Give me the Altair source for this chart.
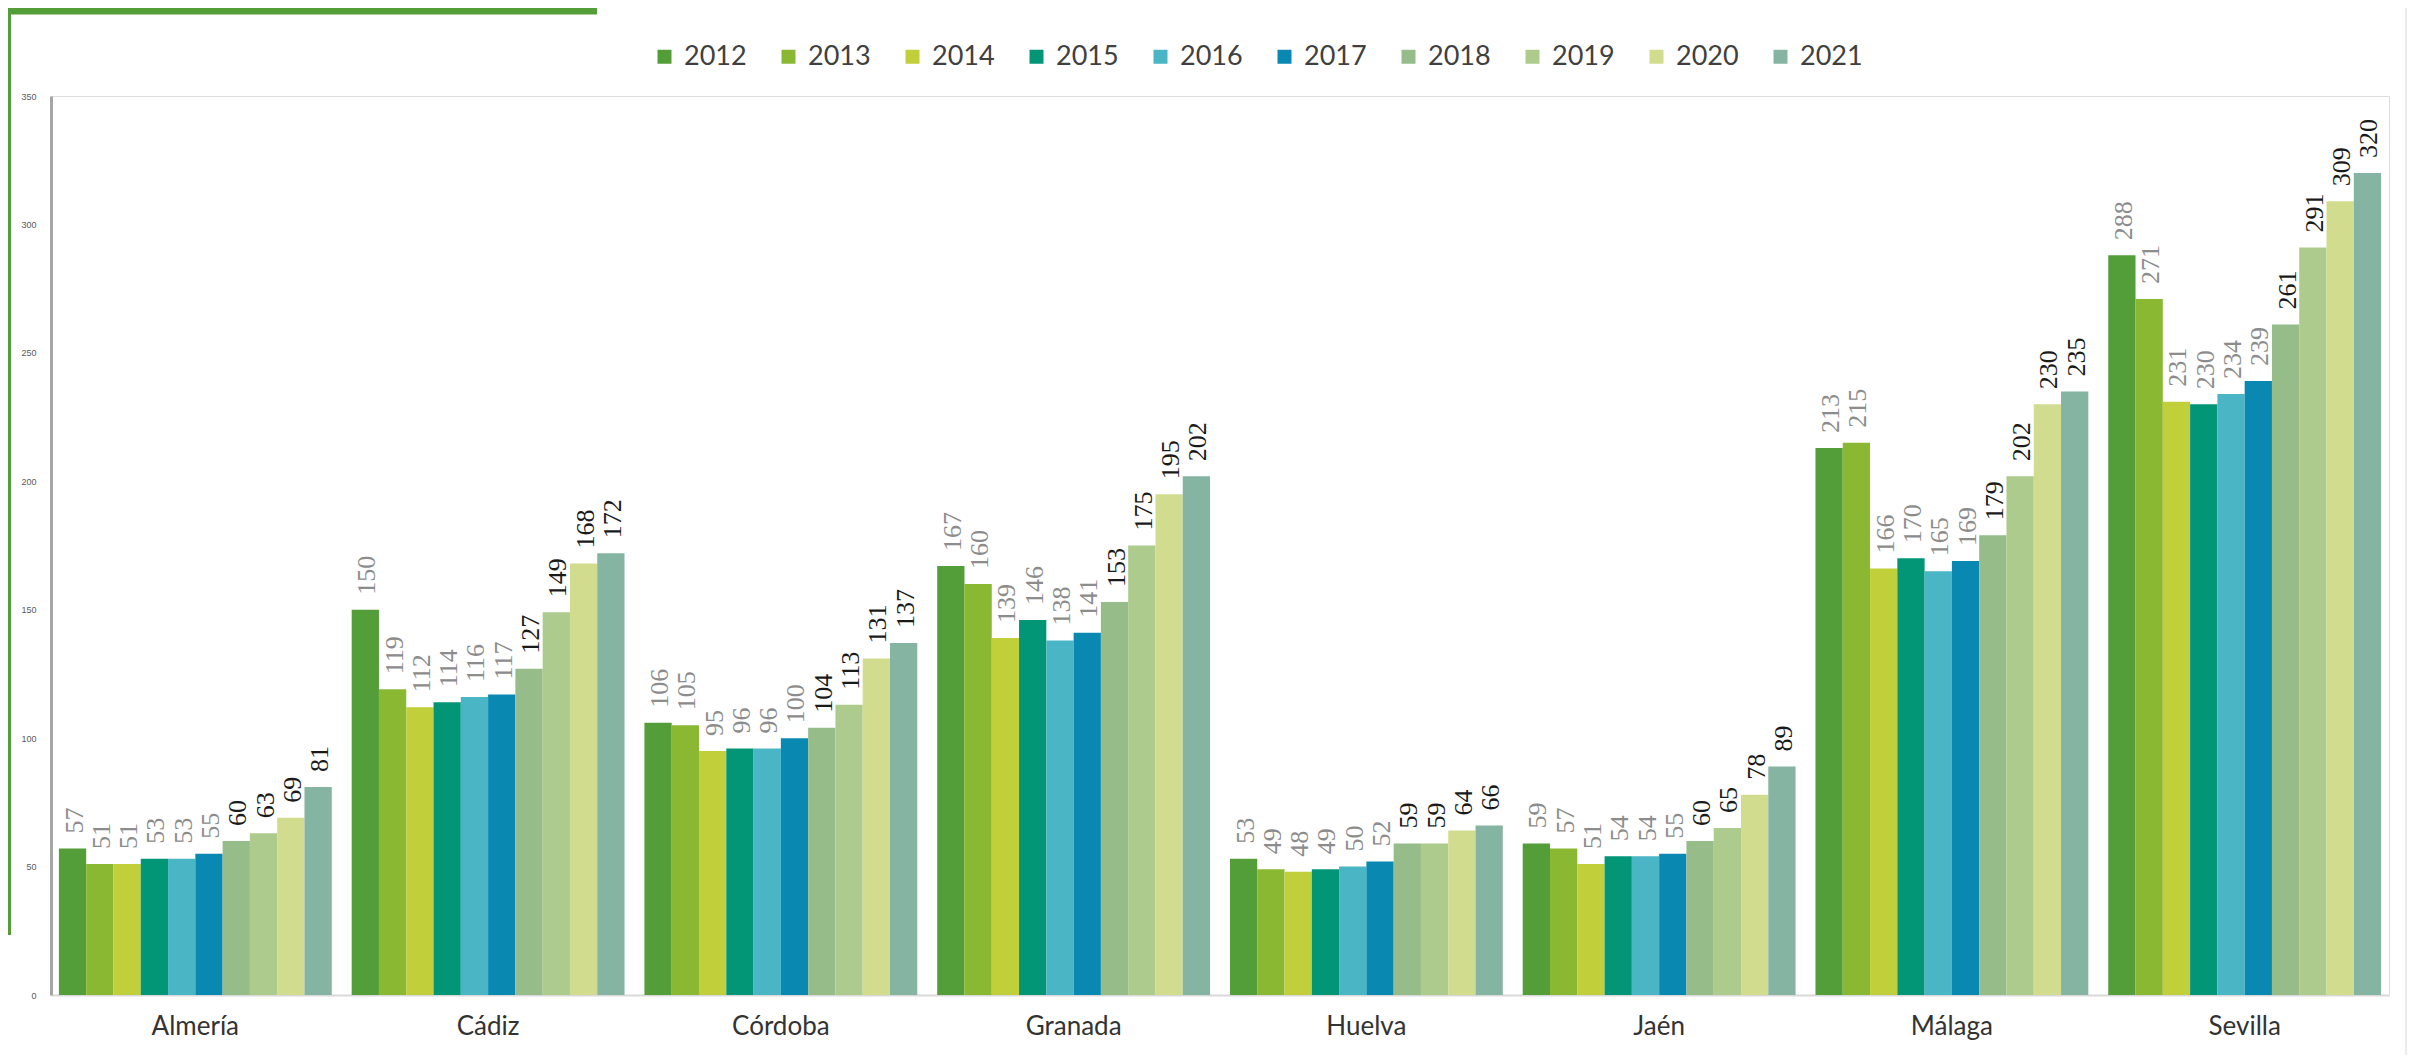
import altair as alt
import pandas as pd

provinces = ["Almería", "Cádiz", "Córdoba", "Granada", "Huelva", "Jaén", "Málaga", "Sevilla"]
years = ["2012", "2013", "2014", "2015", "2016", "2017", "2018", "2019", "2020", "2021"]

almeria = [57, 51, 51, 53, 53, 55, 60, 63, 69, 81]
cadiz = [150, 119, 112, 114, 116, 117, 127, 149, 168, 172]
cordoba = [106, 105, 95, 96, 96, 100, 104, 113, 131, 137]
granada = [167, 160, 139, 146, 138, 141, 153, 175, 195, 202]
huelva = [53, 49, 48, 49, 50, 52, 59, 59, 64, 66]
jaen = [59, 57, 51, 54, 54, 55, 60, 65, 78, 89]
malaga = [213, 215, 166, 170, 165, 169, 179, 202, 230, 235]
sevilla = [288, 271, 231, 230, 234, 239, 261, 291, 309, 320]

colors = ["#549E39", "#8AB833", "#C0CF3A", "#029676", "#4AB5C4", "#0989B1",
          "#96BC8A", "#ADCB8D", "#D1DC8F", "#85B4A2"]
label_colors = ["#8C8C8C"] * 6 + ["#1A1A1A"] * 4

series = [almeria, cadiz, cordoba, granada, huelva, jaen, malaga, sevilla]
rows = []
for p, vals in zip(provinces, series):
    for i, (y, v) in enumerate(zip(years, vals)):
        rows.append({"prov": p, "year": y, "value": v, "lc": label_colors[i]})
df = pd.DataFrame(rows)

x = alt.X("prov:N", sort=provinces,
          scale=alt.Scale(paddingInner=0.068, paddingOuter=0.027),
          axis=alt.Axis(title=None, labelFontSize=26, labelFont="Lato", labelColor="#333333",
                        ticks=False, domainColor="#D9D9D9", domainWidth=2, labelPadding=18,
                        labelAngle=0))
xo = alt.XOffset("year:N", sort=years, scale=alt.Scale(paddingInner=0, paddingOuter=0))
y = alt.Y("value:Q", scale=alt.Scale(domain=[0, 350], nice=False),
          axis=alt.Axis(title=None, values=list(range(0, 351, 50)), labelFontSize=9,
                        labelColor="#595959", ticks=False, grid=False,
                        domainColor="#A6A6A6", domainWidth=3, labelPadding=15))

bars = alt.Chart(df).mark_bar().encode(
    x=x, xOffset=xo, y=y,
    color=alt.Color("year:N", sort=years, scale=alt.Scale(domain=years, range=colors),
                    legend=alt.Legend(title=None, orient="none", legendX=600, legendY=-53,
                                      direction="horizontal", columns=10, columnPadding=28,
                                      labelFont="Lato", labelFontSize=27,
                                      labelColor="#404040", labelOffset=6,
                                      symbolType="square",
                                      symbolSize=196, symbolStrokeWidth=0, symbolOpacity=1)),
)

labels = alt.Chart(df).mark_text(angle=270, align="left", baseline="middle", dx=15, dy=2,
                                 font="Liberation Sans Narrow", fontSize=26).encode(
    x=x, xOffset=xo, y=y,
    text=alt.Text("value:Q"),
    color=alt.Color("lc:N", scale=None),
)

deco_df = pd.DataFrame({"k": [1]})
top_bar = alt.Chart(deco_df).mark_rule(color="#549E39", strokeWidth=7).encode(
    x=alt.value(-43), x2=alt.value(546), y=alt.value(-85))
left_bar = alt.Chart(deco_df).mark_rule(color="#549E39", strokeWidth=3).encode(
    x=alt.value(-41.5), y=alt.value(-88), y2=alt.value(839))
right_line = alt.Chart(deco_df).mark_rule(color="#EBEBEB", strokeWidth=2).encode(
    x=alt.value(2355), y=alt.value(-88), y2=alt.value(960))

chart = alt.layer(top_bar, left_bar, right_line, bars, labels).properties(
    width=2338, height=899,
    padding={"left": 43, "top": 88, "right": 33, "bottom": 60},
    autosize=alt.AutoSizeParams(type="none"),
).configure_view(stroke=None).configure(background="white")

chart.save("out.html", embed_options={"renderer": "svg", "actions": False})
